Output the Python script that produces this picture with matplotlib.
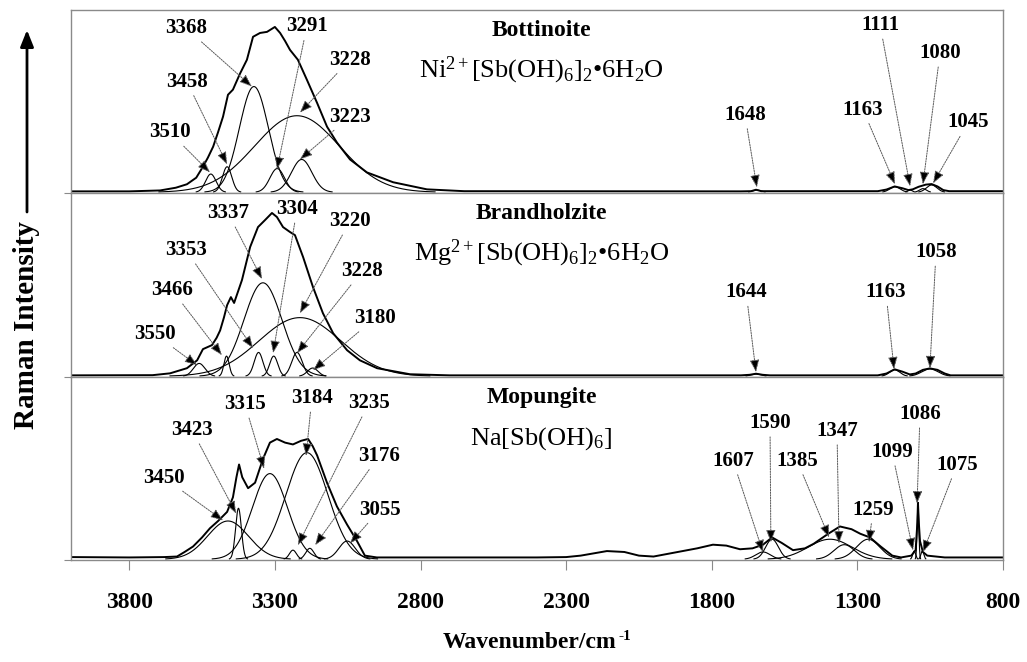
import numpy as np
import matplotlib.pyplot as plt

plt.rcParams['font.family'] = ['Liberation Serif', 'DejaVu Serif']
plt.rcParams['mathtext.fontset'] = 'custom'
plt.rcParams['mathtext.rm'] = 'Liberation Serif'
plt.rcParams['mathtext.it'] = 'Liberation Serif:italic'
plt.rcParams['mathtext.bf'] = 'Liberation Serif:bold'

# ---- Bottinoite ----
bot_env_wn = [4000, 3800, 3694, 3640, 3602, 3570, 3547, 3530, 3512, 3495, 3478, 3461, 3444,
              3420, 3396, 3375, 3351, 3327, 3300, 3282, 3265, 3248, 3221, 3190, 3155, 3121,
              3087, 3042, 2984, 2894, 2778, 2650, 1700, 1665, 1648, 1630, 1230, 1200, 1172,
              1145, 1125, 1110, 1090, 1065, 1045, 1025, 1005, 985, 800]
bot_env_int = [0.005, 0.005, 0.01, 0.025, 0.044, 0.08, 0.14, 0.19, 0.25, 0.33, 0.415, 0.535, 0.563,
               0.65, 0.727, 0.853, 0.874, 0.88, 0.907, 0.874, 0.83, 0.781, 0.727, 0.617, 0.49, 0.36,
               0.273, 0.18, 0.109, 0.055, 0.016, 0.006, 0.005, 0.006, 0.014, 0.006, 0.006, 0.015, 0.032,
               0.022, 0.012, 0.016, 0.03, 0.042, 0.045, 0.032, 0.012, 0.006, 0.006]
bot_band_pos = [3520, 3464, 3372, 3292, 3224, 3208, 1645, 1171, 1119, 1075, 1045]
bot_band_amp = [0.10, 0.14, 0.58, 0.13, 0.42, 0.18, 0.012, 0.03, 0.012, 0.02, 0.04]
bot_band_wid = [18, 16, 50, 25, 145, 35, 15, 18, 8, 12, 18]
bot_labels = ['3368', '3291', '3228', '3458', '3223', '3510', '1648', '1163', '1111', '1080', '1045']
bot_tip = [(3379, 0.58), (3293, 0.126), (3214, 0.437), (3464, 0.153), (3214, 0.18), (3523, 0.109),
           (1645, 0.027), (1171, 0.044), (1119, 0.033), (1075, 0.044), (1040, 0.049)]
bot_txt = [(3605, 0.90), (3190, 0.91), (3042, 0.727), (3602, 0.607), (3042, 0.415), (3660, 0.328),
           (1686, 0.426), (1281, 0.454), (1222, 0.918), (1016, 0.765), (920, 0.383)]

# ---- Brandholzite ----
bra_env_wn = [4000, 3720, 3660, 3602, 3567, 3547, 3516, 3500, 3488, 3475, 3464, 3451, 3440, 3413,
              3385, 3358, 3334, 3310, 3293, 3272, 3248, 3231, 3203, 3169, 3135, 3100, 3052, 3008,
              2949, 2836, 2700, 1700, 1670, 1648, 1625, 1600, 1230, 1200, 1172, 1145, 1120, 1100,
              1075, 1051, 1025, 1000, 980, 800]
bra_env_int = [0.005, 0.006, 0.016, 0.044, 0.087, 0.148, 0.17, 0.21, 0.25, 0.32, 0.388, 0.432, 0.40, 0.525,
               0.705, 0.814, 0.852, 0.891, 0.869, 0.814, 0.787, 0.77, 0.65, 0.486, 0.344, 0.235, 0.142, 0.087,
               0.044, 0.011, 0.005, 0.005, 0.008, 0.014, 0.008, 0.005, 0.005, 0.015, 0.038, 0.025, 0.01, 0.015,
               0.035, 0.043, 0.035, 0.015, 0.005, 0.005]
bra_band_pos = [3560, 3466, 3356, 3341, 3304, 3224, 3214, 3170, 1648, 1172, 1051]
bra_band_amp = [0.07, 0.11, 0.13, 0.51, 0.11, 0.13, 0.32, 0.045, 0.012, 0.035, 0.04]
bra_band_wid = [20, 9, 15, 65, 14, 18, 140, 18, 18, 18, 28]
bra_labels = ['3337', '3304', '3220', '3353', '3228', '3466', '3180', '3550', '1644', '1163', '1058']
bra_tip = [(3344, 0.53), (3306, 0.126), (3214, 0.344), (3375, 0.153), (3224, 0.126), (3482, 0.115),
           (3169, 0.033), (3567, 0.06), (1648, 0.022), (1174, 0.038), (1051, 0.044)]
bra_txt = [(3461, 0.891), (3224, 0.913), (3042, 0.847), (3605, 0.689), (3001, 0.574), (3653, 0.47),
           (2956, 0.317), (3712, 0.23), (1682, 0.459), (1202, 0.459), (1030, 0.678)]

# ---- Mopungite ----
mop_env_wn = [4000, 3800, 3680, 3636, 3610, 3581, 3550, 3523, 3495, 3464, 3444, 3432, 3423, 3412,
              3392, 3368, 3341, 3317, 3293, 3265, 3238, 3210, 3186, 3170, 3155, 3121, 3087, 3052,
              3018, 2991, 2950, 2400, 2300, 2250, 2160, 2100, 2050, 2000, 1950, 1900, 1850, 1796,
              1750, 1703, 1660, 1624, 1593, 1560, 1521, 1480, 1450, 1400, 1360, 1320, 1290, 1257,
              1220, 1180, 1150, 1115, 1100, 1094, 1092, 1089, 1085, 1075, 1060, 1000, 800]
mop_env_int = [0.012, 0.01, 0.012, 0.015, 0.04, 0.07, 0.12, 0.17, 0.21, 0.26, 0.34, 0.45, 0.52, 0.45,
               0.39, 0.42, 0.55, 0.64, 0.66, 0.64, 0.63, 0.65, 0.66, 0.62, 0.57, 0.42, 0.29, 0.19,
               0.10, 0.02, 0.01, 0.01, 0.012, 0.02, 0.045, 0.04, 0.02, 0.015, 0.03, 0.045, 0.06, 0.08,
               0.075, 0.055, 0.06, 0.08, 0.12, 0.09, 0.05, 0.06, 0.085, 0.14, 0.18, 0.165, 0.14, 0.12,
               0.07, 0.02, 0.01, 0.02, 0.05, 0.2, 0.31, 0.2, 0.10, 0.04, 0.02, 0.01, 0.01]
mop_band_pos = [3461, 3425, 3317, 3190, 3238, 3180, 3052, 1624, 1593, 1394, 1345, 1263, 1105, 1092, 1077]
mop_band_amp = [0.21, 0.28, 0.47, 0.585, 0.05, 0.06, 0.10, 0.04, 0.11, 0.11, 0.08, 0.11, 0.045, 0.30, 0.045]
mop_band_wid = [70, 10, 60, 72, 12, 14, 28, 25, 22, 75, 35, 40, 5, 3, 5]
mop_labels = ['3315', '3184', '3235', '3423', '3176', '3450', '3055',
              '1590', '1086', '1347', '1099', '1607', '1385', '1075', '1259']
mop_tip = [(3337, 0.497), (3193, 0.568), (3221, 0.077), (3433, 0.251), (3162, 0.077), (3478, 0.213),
           (3042, 0.087), (1597, 0.093), (1095, 0.306), (1363, 0.087), (1109, 0.049), (1624, 0.038),
           (1397, 0.12), (1075, 0.038), (1260, 0.093)]
mop_txt = [(3403, 0.852), (3173, 0.885), (2977, 0.858), (3585, 0.71), (2942, 0.568), (3681, 0.448),
           (2939, 0.273), (1600, 0.749), (1085, 0.798), (1370, 0.705), (1181, 0.59), (1727, 0.541),
           (1507, 0.541), (958, 0.519), (1246, 0.273)]

names = ['Bottinoite', 'Brandholzite', 'Mopungite']
formulas = [r'Ni$^{2+}$[Sb(OH)$_6$]$_2$•6H$_2$O',
            r'Mg$^{2+}$[Sb(OH)$_6$]$_2$•6H$_2$O',
            r'Na[Sb(OH)$_6$]']

panels = [
    (bot_env_wn, bot_env_int, bot_band_pos, bot_band_amp, bot_band_wid, bot_labels, bot_tip, bot_txt),
    (bra_env_wn, bra_env_int, bra_band_pos, bra_band_amp, bra_band_wid, bra_labels, bra_tip, bra_txt),
    (mop_env_wn, mop_env_int, mop_band_pos, mop_band_amp, mop_band_wid, mop_labels, mop_tip, mop_txt),
]

fig = plt.figure(figsize=(10.27, 6.62), dpi=100)
left, width = 71 / 1027, 932 / 1027
bottoms = [1 - 193 / 662, 1 - 377 / 662, 1 - 560 / 662]
heights = [183 / 662, 184 / 662, 183 / 662]
frame = '#8a8a8a'
wn = np.linspace(4000, 800, 6401)

axes = []
for i, (ewn, eint, bpos, bamp, bwid, labs, tips, txts) in enumerate(panels):
    ax = fig.add_axes([left, bottoms[i], width, heights[i]])
    axes.append(ax)
    for c, a, w in zip(bpos, bamp, bwid):
        prof = a * np.exp(-0.5 * ((wn - c) / w) ** 2)
        prof[prof < 0.002] = np.nan
        ax.plot(wn, prof, color='black', lw=0.8)
    ax.plot(ewn, eint, color='black', lw=1.4)
    for lab, tip, txt in zip(labs, tips, txts):
        ax.annotate(lab, xy=tip, xytext=txt, ha='center', va='center',
                    fontsize=15, fontweight='bold',
                    arrowprops=dict(arrowstyle='-|>,head_length=0.5,head_width=0.19',
                                    ec='0.35', fc='black', lw=0.7, ls=(0, (1.5, 1.2)),
                                    shrinkA=1, shrinkB=0))
    ax.text(2385, 0.89, names[i], ha='center', va='center', fontsize=17, fontweight='bold')
    ax.text(2385, 0.63, formulas[i], ha='center', va='baseline', fontsize=19)
    ax.set_xlim(4000, 800)
    ax.set_ylim(-0.004, 1.0)
    for s in ax.spines.values():
        s.set_color(frame)
        s.set_linewidth(1.0)
    ax.set_yticks([-0.004])
    ax.tick_params(axis='y', direction='out', length=5, color=frame, labelleft=False)
    if i < 2:
        ax.tick_params(axis='x', bottom=False, labelbottom=False)

ax = axes[2]
ax.set_xticks([3800, 3300, 2800, 2300, 1800, 1300, 800])
ax.tick_params(axis='x', direction='out', length=7, color=frame, pad=16, labelsize=17)
for t in ax.get_xticklabels():
    t.set_fontweight('bold')

xl = fig.text(530 / 1027, 1 - 642 / 662, 'Wavenumber/cm', ha='center', va='center',
              fontsize=17, fontweight='bold')
ax.annotate('-1', xy=(1.0, 1.0), xycoords=xl, xytext=(1, 1), textcoords='offset points',
            ha='left', va='top', fontsize=11, fontweight='bold', annotation_clip=False)
fig.text(27 / 1027, 1 - 325 / 662, 'Raman Intensity', rotation=90, ha='center', va='center',
         fontsize=21, fontweight='bold')
axes[0].annotate('', xy=(27 / 1027, 1 - 30 / 662), xytext=(27 / 1027, 1 - 212 / 662),
                 xycoords='figure fraction', textcoords='figure fraction', annotation_clip=False,
                 arrowprops=dict(arrowstyle='-|>,head_length=0.5,head_width=0.2', color='black',
                                 lw=2, mutation_scale=20, shrinkA=0, shrinkB=0))

fig.savefig('out.png', dpi=100)
